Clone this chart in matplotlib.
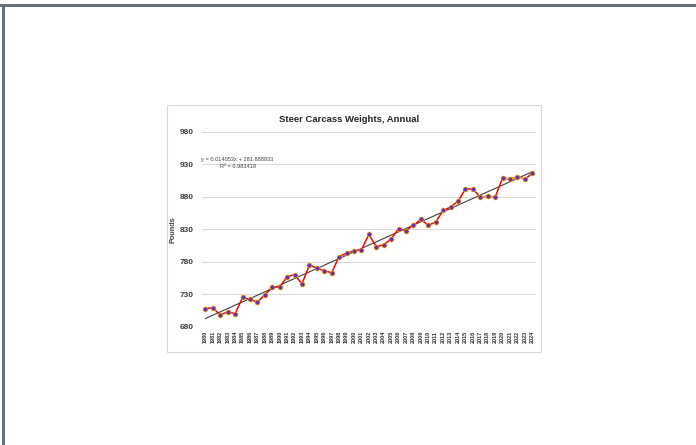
import datetime as dt
import numpy as np
import matplotlib
matplotlib.use("Agg")
import matplotlib.pyplot as plt
from matplotlib.patches import Rectangle

plt.rcParams['font.family'] = ['Liberation Sans', 'DejaVu Sans']

# ── Data ──────────────────────────────────────────────────────────────────────
years = list(range(1980, 2025))
weights = [708, 709, 698, 703, 700, 725, 722, 718, 729, 741,
           741, 757, 760, 746, 775, 770, 766, 763, 788, 793,
           797, 798, 822, 803, 806, 815, 831, 828, 836, 845,
           836, 841, 859, 864, 873, 892, 892, 879, 881, 879,
           909, 907, 911, 907, 916]

# trend line as printed on the chart (x = Excel date serial)
trend_slope = 0.014053
trend_icpt = 281.888933
trend_r2 = 0.983418

y_ticks = [680, 730, 780, 830, 880, 930, 980]

# spans drawn in other colours (start year, end year)
orange_spans = [(2017, 2019), (2020, 2023)]
blue_span = (2023, 2024)

# ── Figure ────────────────────────────────────────────────────────────────────
W, H = 696, 445
fig = plt.figure(figsize=(W / 100, H / 100), dpi=100)
fig.patch.set_facecolor("white")

# page frame (top and left edge)
fig.add_artist(Rectangle((0, 1 - 7 / H), 1, 3 / H, transform=fig.transFigure,
                         facecolor="#66717d", edgecolor="none", zorder=-2))
fig.add_artist(Rectangle((2 / W, 0), 3 / W, 1 - 4 / H, transform=fig.transFigure,
                         facecolor="#66717d", edgecolor="none", zorder=-2))

# chart box
fig.add_artist(Rectangle((167 / W, 1 - 352 / H), (541 - 167) / W, (352 - 105) / H,
                         transform=fig.transFigure, facecolor="white",
                         edgecolor="#d9d9d9", linewidth=0.8, zorder=-1))

ax = fig.add_axes([201.7 / W, 1 - 326.7 / H, (536 - 201.7) / W, (326.7 - 131.7) / H])
ax.set_facecolor("none")

idx = np.arange(len(years))
vals = np.array(weights)

serial = np.array([(dt.date(y, 1, 1) - dt.date(1899, 12, 30)).days for y in years])
trend = trend_slope * serial + trend_icpt

ax.plot(idx, trend, color="#404040", linewidth=0.8, zorder=2)
ax.plot(idx, vals, color="#ff0000", linewidth=1.1, zorder=3)
for a, b in orange_spans:
    s = slice(years.index(a), years.index(b) + 1)
    ax.plot(idx[s], vals[s], color="#f5a623", linewidth=1.1, zorder=3.5)
s = slice(years.index(blue_span[0]), years.index(blue_span[1]) + 1)
ax.plot(idx[s], vals[s], color="#4472c4", linewidth=1.0, linestyle=(0, (2, 1.5)), zorder=3.6)
ax.plot(idx, vals, linestyle="none", marker="o", markersize=3.6,
        markerfacecolor="#7030a0", markeredgecolor="#ffc000", markeredgewidth=0.45, zorder=4)

ax.set_xlim(-0.5, len(years) - 0.5)
ax.set_ylim(y_ticks[0], y_ticks[-1])
ax.set_yticks(y_ticks)
ax.set_yticklabels([str(t) for t in y_ticks], fontsize=6, color="#404040", fontweight="bold")
ax.set_xticks(idx)
ax.set_xticklabels([str(y) for y in years], rotation=90, fontsize=4,
                   color="#333333", fontweight="bold")
ax.tick_params(axis="both", length=0, pad=3)
ax.tick_params(axis="y", pad=6)
ax.grid(axis="y", color="#d9d9d9", linewidth=0.7)
ax.set_axisbelow(True)
for sp in ax.spines.values():
    sp.set_visible(False)

ax.set_ylabel("Pounds", fontsize=5.2, fontweight="bold", color="#404040", labelpad=2)

fig.text(349 / W, 1 - 119 / H, "Steer Carcass Weights, Annual", ha="center", va="center",
         fontsize=6.8, fontweight="bold", color="#262626")

fig.text(201 / W, 1 - 160 / H, f"y = {trend_slope:.6f}x + {trend_icpt:.6f}",
         ha="left", va="center", fontsize=4.1, color="#404040")
fig.text(220 / W, 1 - 166.8 / H, f"R² = {trend_r2:.6f}",
         ha="left", va="center", fontsize=4.1, color="#404040")

fig.savefig("out.png", dpi=100, facecolor=fig.get_facecolor())
